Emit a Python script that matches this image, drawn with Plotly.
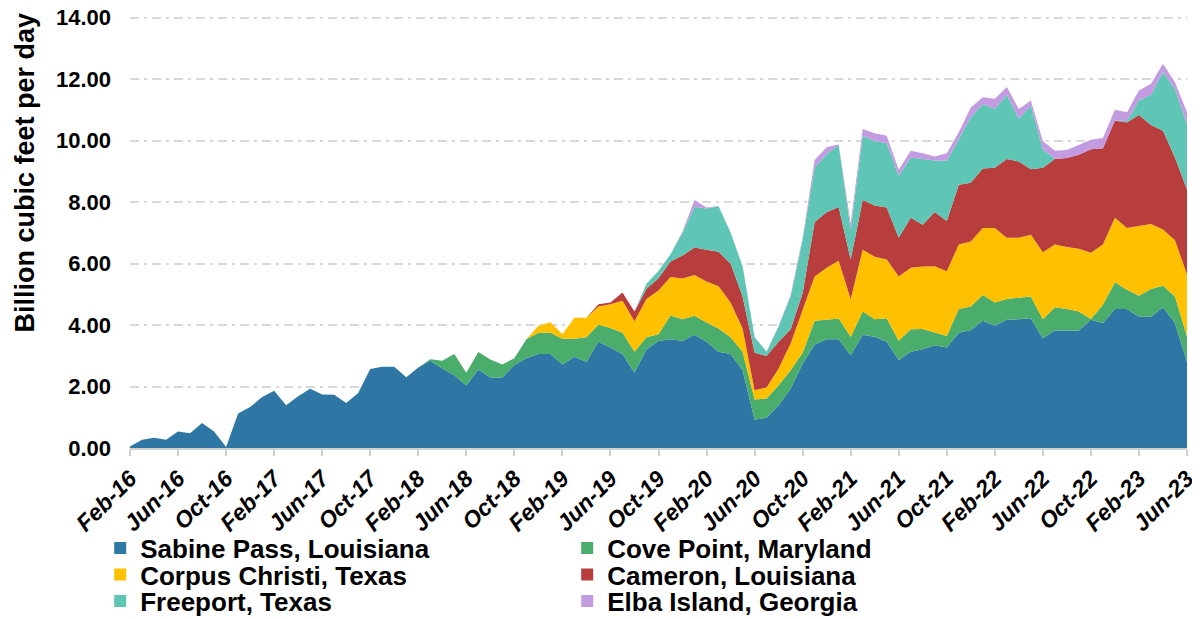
import pandas as pd
import plotly.graph_objects as go

# Monthly categories Feb-16 .. Jun-23
months = pd.date_range("2016-02-01", "2023-06-01", freq="MS").strftime("%b-%y").tolist()
tick_labels = months[::4]

sabine = [0.05, 0.27, 0.33, 0.27, 0.54, 0.48, 0.81, 0.54, 0.03, 1.12,
          1.33, 1.66, 1.86, 1.39, 1.68, 1.93, 1.74, 1.73, 1.46, 1.79,
          2.57, 2.64, 2.64, 2.30, 2.62, 2.84, 2.59, 2.37, 2.03, 2.55,
          2.29, 2.29, 2.70, 2.92, 3.06, 3.06, 2.72, 2.97, 2.80, 3.46,
          3.27, 3.06, 2.45, 3.21, 3.48, 3.54, 3.49, 3.68, 3.46, 3.13,
          3.06, 2.53, 0.92, 0.99, 1.39, 1.93, 2.75, 3.37, 3.54, 3.54,
          3.02, 3.68, 3.62, 3.46, 2.86, 3.13, 3.21, 3.34, 3.27, 3.75,
          3.84, 4.14, 3.98, 4.17, 4.19, 4.22, 3.57, 3.82, 3.82, 3.82,
          4.17, 4.06, 4.52, 4.52, 4.27, 4.27, 4.58, 4.06, 2.80]

cove_point = [0.0] * 25 + [
          0.05, 0.25, 0.69, 0.42, 0.57, 0.59, 0.43, 0.22, 0.62, 0.69,
          0.69, 0.83, 0.58, 0.80, 0.55, 0.63, 0.69, 0.68, 0.39, 0.22,
          0.77, 0.70, 0.62, 0.62, 0.76, 0.54, 0.60, 0.66, 0.62, 0.65,
          0.60, 0.35, 0.77, 0.63, 0.67, 0.60, 0.76, 0.57, 0.76, 0.63,
          0.73, 0.66, 0.41, 0.37, 0.77, 0.76, 0.84, 0.75, 0.68, 0.69,
          0.71, 0.62, 0.76, 0.70, 0.62, 0.03, 0.60, 0.87, 0.63, 0.68,
          0.90, 0.70, 0.87, 0.82]

corpus_christi = [0.0] * 33 + [
          0.00, 0.23, 0.34, 0.15, 0.69, 0.64, 0.59, 0.78, 1.04, 0.99,
          1.25, 1.42, 1.25, 1.32, 1.33, 1.34, 1.37, 1.13, 0.76, 0.30,
          0.36, 0.55, 0.87, 1.39, 1.44, 1.69, 1.88, 1.22, 2.01, 2.03,
          1.91, 2.09, 2.00, 2.03, 2.16, 2.11, 2.10, 2.12, 2.18, 2.43,
          1.99, 1.96, 2.01, 2.18, 2.04, 2.02, 2.04, 2.15, 1.96, 2.10,
          2.01, 2.27, 2.12, 1.83, 1.83, 2.02]

cameron = [0.0] * 39 + [
          0.08, 0.05, 0.27, 0.32, 0.33, 0.40, 0.51, 0.75, 0.89, 1.03,
          1.12, 1.27, 1.04, 1.22, 1.02, 0.87, 0.46, 0.55, 1.77, 1.81,
          1.75, 1.29, 1.62, 1.67, 1.69, 1.26, 1.63, 1.36, 1.77, 1.63,
          1.94, 1.91, 1.93, 1.96, 2.56, 2.48, 2.13, 2.75, 2.78, 2.89,
          3.06, 3.37, 3.13, 3.16, 3.43, 3.61, 3.22, 3.21, 2.69, 2.77]

freeport = [0.0] * 42 + [
          0.00, 0.16, 0.24, 0.23, 0.74, 1.33, 1.34, 1.48, 1.01, 0.98,
          0.50, 0.14, 0.49, 1.07, 1.74, 1.77, 1.89, 2.01, 0.98, 2.09,
          2.10, 2.09, 2.01, 1.96, 2.14, 1.67, 1.96, 1.49, 2.13, 2.10,
          1.91, 2.09, 1.38, 2.07, 0.60, 0.00, 0.00, 0.00, 0.00, 0.00,
          0.00, 0.05, 0.47, 0.98, 1.91, 2.23, 2.13]

elba_island = [0.0] * 46 + [
          0.04, 0.22, 0.03, 0.01, 0.01, 0.01, 0.01, 0.01, 0.03, 0.05,
          0.06, 0.25, 0.22, 0.03, 0.20, 0.22, 0.25, 0.25, 0.20, 0.22,
          0.19, 0.13, 0.25, 0.22, 0.32, 0.22, 0.33, 0.25, 0.33, 0.16,
          0.27, 0.27, 0.26, 0.31, 0.31, 0.33, 0.35, 0.28, 0.33, 0.36,
          0.27, 0.22, 0.38]

series = [
    ("Sabine Pass, Louisiana", sabine, "#2E77A5", "legend"),
    ("Cove Point, Maryland", cove_point, "#4AAD6C", "legend"),
    ("Corpus Christi, Texas", corpus_christi, "#FFC000", "legend2"),
    ("Cameron, Louisiana", cameron, "#B83D3D", "legend2"),
    ("Freeport, Texas", freeport, "#5FC5B4", "legend3"),
    ("Elba Island, Georgia", elba_island, "#C39BE1", "legend3"),
]

FONT = "Liberation Sans, Arial, sans-serif"
W, H = 1192, 611  # page body has an 8px margin inside the 1200x619 window

fig = go.Figure()

for name, vals, color, _ in series:
    fig.add_trace(go.Scatter(
        x=months, y=vals, name=name, legendgroup=name,
        stackgroup="one", mode="lines",
        line=dict(width=0, color=color), fillcolor=color,
        showlegend=False, hoverinfo="x+y+name",
    ))

# legend entries (square swatches)
for name, vals, color, lg in series:
    fig.add_trace(go.Scatter(
        x=[months[0]], y=[None], name=name, legendgroup=name, legend=lg,
        mode="markers", marker=dict(symbol="square", size=12, color=color),
        showlegend=True, hoverinfo="skip",
    ))

legend_common = dict(
    orientation="h", xref="container", yref="container",
    x=92.2 / W, xanchor="left", yanchor="middle",
    entrywidth=422, entrywidthmode="pixels",
    font=dict(family=FONT, size=26, color="black", weight="bold"),
    bgcolor="rgba(0,0,0,0)", borderwidth=0, itemclick=False,
)

fig.update_layout(
    width=W, height=H,
    margin=dict(l=122, r=13, t=5, b=171, autoexpand=False),
    paper_bgcolor="white", plot_bgcolor="white",
    font=dict(family=FONT, color="black"),
    legend=dict(legend_common, y=1 - 540 / H),
    legend2=dict(legend_common, y=1 - 566.5 / H),
    legend3=dict(legend_common, y=1 - 593 / H),
    xaxis=dict(
        type="category", range=[0, len(months) - 1], automargin=False,
        tickmode="array", tickvals=tick_labels, ticktext=tick_labels,
        tickangle=-45, ticklabeloverflow="allow",
        tickfont=dict(family=FONT, size=23, color="black", weight="bold", style="italic"),
        showline=True, linecolor="#d0d0d0", linewidth=2,
        ticks="outside", ticklen=6, tickwidth=2, tickcolor="#d0d0d0",
        showgrid=False, zeroline=False,
    ),
    yaxis=dict(
        range=[0, 14.15], tickmode="array", tickvals=[0, 2, 4, 6, 8, 10, 12, 14],
        tickformat=".2f", automargin=False, ticklabeloverflow="allow",
        tickfont=dict(family=FONT, size=22, color="black", weight="bold"),
        showgrid=True, gridcolor="#d9d9d9", gridwidth=2,
        griddash="9px,5px,3px,5px",
        zeroline=False, showline=False, ticks="",
        ticklabelstandoff=18,
    ),
    annotations=[dict(
        text="Billion cubic feet per day", textangle=-90,
        xref="paper", yref="paper", x=(24 - 130) / 1057, y=(448 - 172.5) / 435,
        xanchor="center", yanchor="middle", showarrow=False,
        font=dict(family=FONT, size=27, color="black", weight="bold"),
    )],
)

fig.write_html("out.html")
